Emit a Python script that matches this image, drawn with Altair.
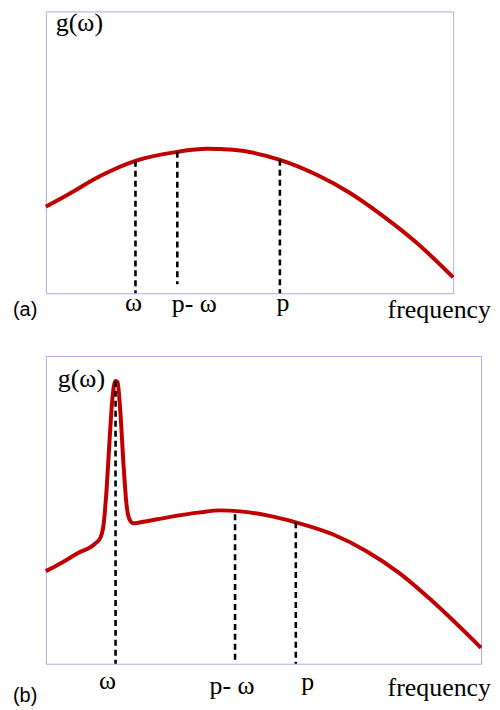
import altair as alt
import pandas as pd

# ---------------- Panel (a) data ----------------
a_freq = [0, 22, 55, 90, 132, 162, 188, 235, 272, 305, 338, 372, 409]
a_g = [87, 99, 118, 133, 142, 145, 144, 134, 119, 101, 78, 51, 16]
a_mark_x = [90, 132, 235]
a_mark_top = [133, 142, 134]
a_mark_bottom = [0, 9, 0]
a_label_x = [88, 149, 238]
a_label_text = ["ω", "p- ω", "p"]
a_label_base = [301, 302, 301]

# ---------------- Panel (b) data ----------------
b_freq = [0, 15, 32, 50, 55, 58, 61, 64, 67, 70, 72, 75, 78, 81, 84, 88, 95,
          122, 155, 175, 195, 222, 251, 288, 322, 355, 388, 437]
b_g = [93, 101, 111, 121, 127, 140, 175, 225, 268, 284, 283, 250, 200, 160, 145,
       141, 142, 147, 152, 154, 153, 149, 142, 130, 113, 91, 63, 16]
b_mark_x = [70, 190, 251]
b_mark_top = [284, 150, 142]
b_mark_bottom = [0, 0, 0]
b_label_x = [62, 187, 263]
b_label_text = ["ω", "p- ω", "p"]
b_label_base = [334, 339, 335]

RED = "#c00000"
SERIF = "Liberation Serif, Times New Roman, DejaVu Serif, serif"
SANS = "Liberation Sans, Arial, sans-serif"


def panel(freq, g, mx, mtop, mbot, lx, ltext, lbase, width, height, tag,
          freq_base, tag_y, g_x, g_y):
    xs = alt.Scale(domain=[0, width], nice=False, zero=False)
    ys = alt.Scale(domain=[0, height], nice=False, zero=False)
    curve_df = pd.DataFrame({"f": freq, "g": g})
    mark_df = pd.DataFrame({"f": mx, "top": mtop, "bot": mbot})
    lab_df = pd.DataFrame({"f": lx, "t": ltext, "b": lbase})

    curve = alt.Chart(curve_df).mark_line(
        color=RED, strokeWidth=4, interpolate="monotone", clip=False
    ).encode(
        x=alt.X("f:Q", scale=xs, axis=None),
        y=alt.Y("g:Q", scale=ys, axis=None),
    )
    rules = alt.Chart(mark_df).mark_rule(
        color="black", strokeWidth=2.6, strokeDash=[6, 4]
    ).encode(
        x=alt.X("f:Q", scale=xs, axis=None),
        y=alt.Y("top:Q", scale=ys, axis=None),
        y2="bot:Q",
    )
    labels = alt.Chart(lab_df).mark_text(
        font=SERIF, fontSize=26, baseline="alphabetic", align="center", color="black"
    ).encode(
        x=alt.X("f:Q", scale=xs, axis=None),
        y=alt.Y("b:Q", scale=alt.Scale(domain=[0, height], range=[0, height], nice=False, zero=False), axis=None),
        text="t:N",
    )
    freq_lab = alt.Chart(pd.DataFrame({"t": ["frequency"]})).mark_text(
        font=SERIF, fontSize=26, baseline="alphabetic", align="right", color="black"
    ).encode(x=alt.value(447 if width < 420 else width + 10),
             y=alt.value(freq_base), text="t:N")
    tag_lab = alt.Chart(pd.DataFrame({"t": [tag]})).mark_text(
        font=SANS, fontSize=20, baseline="middle", align="left", color="black"
    ).encode(x=alt.value(-33), y=alt.value(tag_y), text="t:N")
    g_lab = alt.Chart(pd.DataFrame({"t": ["g(ω)"]})).mark_text(
        font=SERIF, fontSize=26, baseline="alphabetic", align="left", color="black"
    ).encode(x=alt.value(g_x), y=alt.value(g_y), text="t:N")

    return alt.layer(curve, rules, labels, freq_lab, tag_lab, g_lab).properties(
        width=width, height=height
    ).resolve_scale(y="independent")


pa = panel(a_freq, a_g, a_mark_x, a_mark_top, a_mark_bottom, a_label_x,
           a_label_text, a_label_base, 409, 283, "(a)", 308, 300, 10, 20)
pb = panel(b_freq, b_g, b_mark_x, b_mark_top, b_mark_bottom, b_label_x,
           b_label_text, b_label_base, 437, 309, "(b)", 341, 341, 12, 31)

chart = alt.vconcat(pa, pb, spacing=63, bounds="flush").properties(
    padding={"left": 4, "top": 0, "right": 0, "bottom": 0}
).configure_view(stroke="#aaaae6", strokeWidth=1)

chart.save("out.html", embed_options={"renderer": "svg", "actions": False})
